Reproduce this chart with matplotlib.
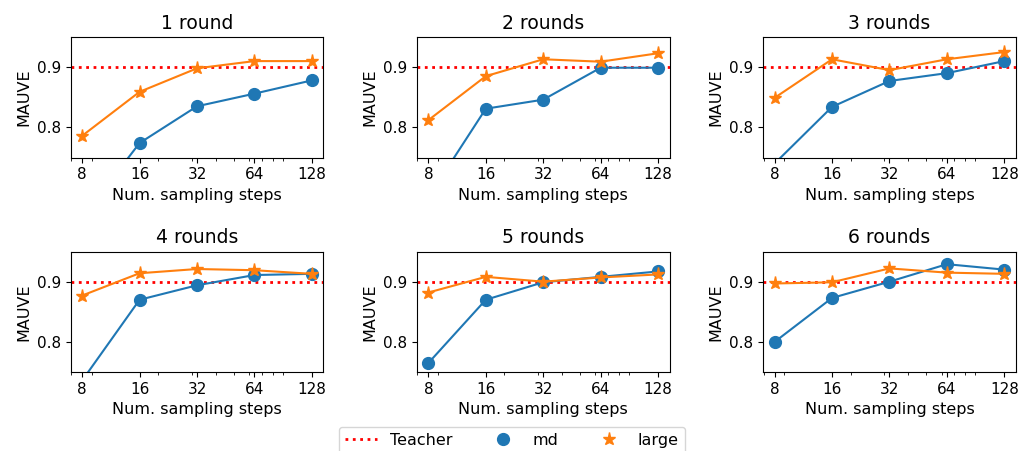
import numpy as np
import matplotlib.pyplot as plt
from matplotlib.lines import Line2D

# pasos de muestreo
steps = [8, 16, 32, 64, 128]
step_labels = ['8', '16', '32', '64', '128']
titles = ['1 round', '2 rounds', '3 rounds', '4 rounds', '5 rounds', '6 rounds']
teacher = 0.9

# MAUVE por ronda
md = [
    [0.65, 0.774, 0.835, 0.856, 0.878],
    [0.684, 0.831, 0.846, 0.899, 0.899],
    [0.74, 0.834, 0.877, 0.890, 0.910],
    [0.736, 0.870, 0.894, 0.911, 0.913],
    [0.765, 0.870, 0.899, 0.908, 0.917],
    [0.800, 0.873, 0.900, 0.929, 0.920],
]
large = [
    [0.786, 0.859, 0.898, 0.910, 0.910],
    [0.812, 0.885, 0.913, 0.909, 0.923],
    [0.849, 0.913, 0.895, 0.913, 0.925],
    [0.877, 0.914, 0.921, 0.919, 0.913],
    [0.882, 0.908, 0.900, 0.907, 0.912],
    [0.897, 0.899, 0.922, 0.915, 0.913],
]

fig, axes = plt.subplots(2, 3, figsize=(10.24, 4.51), dpi=100)
plt.subplots_adjust(left=0.069, right=0.992, top=0.918, bottom=0.175,
                    wspace=0.37, hspace=0.78)

for i, ax in enumerate(axes.flat):
    ax.axhline(teacher, color='red', linestyle=':', linewidth=2)
    ax.plot(steps, md[i], marker='o', markersize=8.5, color='#1f77b4', linewidth=1.5)
    ax.plot(steps, large[i], marker='*', markersize=9.5, color='#ff7f0e', linewidth=1.5)
    ax.set_xscale('log')
    ax.set_xticks(steps)
    ax.set_xticklabels(step_labels)
    ax.set_ylim(0.75, 0.95)
    ax.set_yticks([0.8, 0.9])
    ax.tick_params(labelsize=11)
    ax.set_title(titles[i], fontsize=13.5)
    ax.set_xlabel('Num. sampling steps', fontsize=11.5)
    ax.set_ylabel('MAUVE', fontsize=11.5)

handles = [
    Line2D([], [], color='red', linestyle=':', linewidth=2),
    Line2D([], [], color='#1f77b4', marker='o', linestyle='none', markersize=8.5),
    Line2D([], [], color='#ff7f0e', marker='*', linestyle='none', markersize=9.5),
]
fig.legend(handles, ['Teacher', 'md', 'large'], loc='lower center', ncol=3,
           bbox_to_anchor=(0.5, -0.025), fontsize=11.5, columnspacing=2.2)

plt.savefig('out.png')
